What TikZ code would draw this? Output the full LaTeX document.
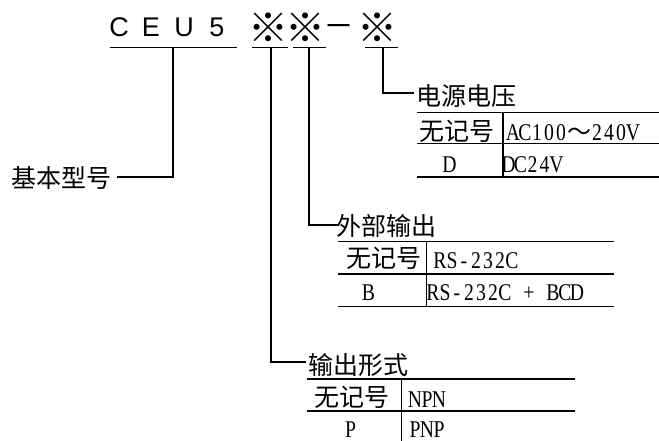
\documentclass[tikz,border=0pt]{standalone}
\usepackage{fontspec}
\setmainfont{Liberation Serif}
\newfontfamily\cjk{Noto Sans CJK SC}
\newfontfamily\ltn[FakeStretch=0.82]{Liberation Serif}
\newfontfamily\ttl{Liberation Sans}
\makeatletter
\newcommand\monotext[1]{\@tfor\mt@c:=#1\do{\makebox[12pt]{\mt@c}}}
\makeatother
\tikzset{
  every node/.style={inner sep=0pt, outer sep=0pt},
  ln/.style={line width=1.3pt, line cap=rect},
  rule/.style={line width=1.3pt},
  titlech/.style={anchor=base, font=\ttl\fontsize{27}{30}\selectfont},
  refmark/.style={anchor=center, font=\cjk\fontsize{40}{44}\selectfont},
  head/.style={anchor=base west, font=\cjk\fontsize{25}{30}\selectfont},
  cjkcell/.style={anchor=base, font=\cjk\fontsize{25}{30}\selectfont},
  latcell/.style={anchor=base, font=\ltn\fontsize{24}{28}\selectfont},
  latval/.style={anchor=base west, font=\ltn\fontsize{24}{28}\selectfont},
}
\begin{document}
\begin{tikzpicture}[x=1pt, y=-1pt]
\useasboundingbox (0,0) rectangle (659,441);

% title
\node[titlech] (tC) at (119,37) {C};
\node[titlech] (tE) at (151,37) {E};
\node[titlech] (tU) at (184,37) {U};
\node[titlech] (t5) at (217,37) {5};
\node[refmark] (m1) at (268,27.5) {※};
\node[refmark] (m2) at (305,27.5) {※};
\node[anchor=base, font=\ttl\bfseries\fontsize{22}{26}\selectfont] (dash) at (338.5,31.5) {—};
\node[refmark] (m3) at (377,27.5) {※};

% underlines
\draw[rule] (110,47.5) -- (237,47.5);
\draw[rule] (252,47.5) -- (288,47.5);
\draw[rule] (293,47.5) -- (326,47.5);
\draw[rule] (365,47.5) -- (398,47.5);
\coordinate (u0) at (173,47.5);
\coordinate (u1) at (271,47.5);
\coordinate (u2) at (309,47.5);
\coordinate (u3) at (383,47.5);

% labels / headings
\node[anchor=base east, font=\cjk\fontsize{25}{30}\selectfont] (base) at (112,188) {基本型号};
\node[head] (h3) at (416,106) {电源电压};
\node[head] (h2) at (336.5,235) {外部输出};
\node[head] (h1) at (308,374) {输出形式};

\coordinate (e0) at (118,177);
\coordinate (e1) at (305,362);
\coordinate (e2) at (337,225);
\coordinate (e3) at (413,93);

\draw[ln] (u0) |- (e0);
\draw[ln] (u1) |- (e1);
\draw[ln] (u2) |- (e2);
\draw[ln] (u3) |- (e3);

% table: power supply
\draw[rule] (417,112.7) -- (659,112.7);
\draw[rule] (417,143.5) -- (659,143.5);
\draw[rule] (417,177) -- (659,177);
\draw[rule] (503,112.7) -- (503,177);
\node[cjkcell] (p1a) at (456.5,140.3) {无记号};
\node[latval] (p1b) at (507,140.5) {\monotext{AC100}{\cjk ～}\monotext{240V}};
\node[latcell] (p2a) at (449.5,173) {D};
\node[latval] (p2b) at (502.5,173) {\monotext{DC24V}};

% table: external output
\draw[rule] (338,241.7) -- (614,241.7);
\draw[rule] (338,274) -- (614,274);
\draw[rule] (338,306.5) -- (614,306.5);
\draw[rule] (426.7,241.7) -- (426.7,306.5);
\node[cjkcell] (o1a) at (383.5,267.8) {无记号};
\node[latval] (o1b) at (434,268) {\monotext{RS-232C}};
\node[latcell] (o2a) at (368.5,300.5) {B};
\node[latval] (o2b) at (427,300.5) {\monotext{RS-232C~+~BCD}};

% table: output form
\draw[rule] (307,379) -- (575,379);
\draw[rule] (307,411) -- (575,411);
\draw[rule] (401.7,379) -- (401.7,441);
\node[cjkcell] (f1a) at (351.5,406.8) {无记号};
\node[latval] (f1b) at (409,407) {\monotext{NPN}};
\node[latcell] (f2a) at (350.5,437) {P};
\node[latval] (f2b) at (409,437) {\monotext{PNP}};
\end{tikzpicture}
\end{document}
